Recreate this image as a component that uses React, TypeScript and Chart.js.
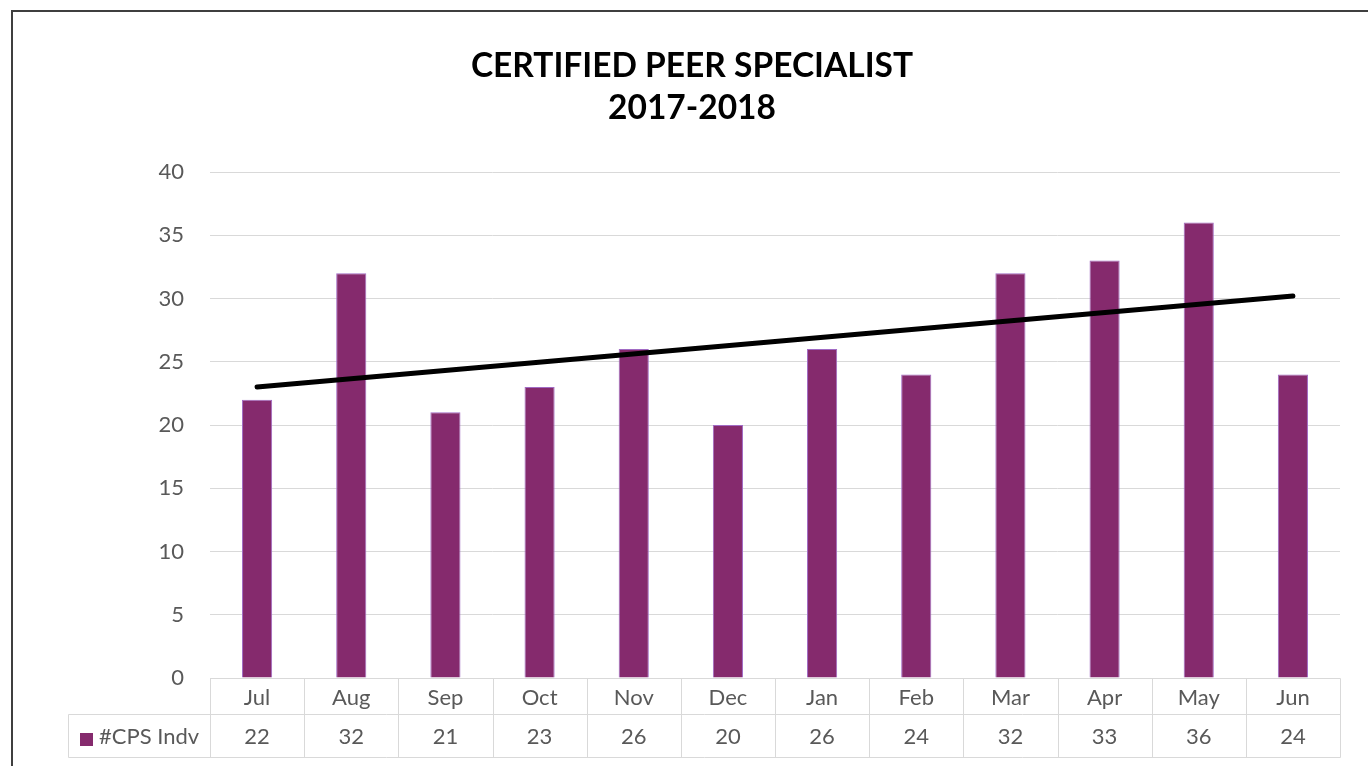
import React, { useEffect, useRef } from "react";
import { Chart, registerables } from "chart.js";

Chart.register(...registerables);

const categories = ["Jul", "Aug", "Sep", "Oct", "Nov", "Dec", "Jan", "Feb", "Mar", "Apr", "May", "Jun"];
const cpsIndv = [22, 32, 21, 23, 26, 20, 26, 24, 32, 33, 36, 24];
const trendLine = [23.0, null, null, null, null, null, null, null, null, null, null, 30.2];
const seriesName = "#CPS Indv";
const titleLines = ["CERTIFIED PEER SPECIALIST", "2017-2018"];
const yMin = 0;
const yMax = 40;
const yStep = 5;

const FONT = "Lato, 'Open Sans', sans-serif";
const BAR_FILL = "#852A6D";
const BAR_EDGE = "#A16BC4";
const TEXT_GRAY = "#595959";
const GRID = "#d9d9d9";

const framePlugin = {
  id: "frame",
  beforeDraw(chart: any) {
    const { ctx, width, height } = chart;
    ctx.save();
    ctx.fillStyle = "#ffffff";
    ctx.fillRect(0, 0, width, height);
    ctx.strokeStyle = "#3f3f3f";
    ctx.lineWidth = 2;
    ctx.beginPath();
    ctx.moveTo(12, height + 2);
    ctx.lineTo(12, 11);
    ctx.lineTo(width + 2, 11);
    ctx.stroke();
    ctx.restore();
  },
};

const titlePlugin = {
  id: "twoLineTitle",
  afterDraw(chart: any) {
    const { ctx } = chart;
    ctx.save();
    ctx.fillStyle = "#000000";
    ctx.font = `bold 33.5px ${FONT}`;
    ctx.textAlign = "center";
    ctx.textBaseline = "middle";
    ctx.fillText(titleLines[0], 692, 66);
    ctx.fillText(titleLines[1], 692, 108);
    ctx.restore();
  },
};

const tablePlugin = {
  id: "dataTable",
  afterDraw(chart: any) {
    const { ctx, chartArea } = chart;
    const xs = chart.scales.x;
    const n = categories.length;
    const half = (xs.getPixelForValue(1) - xs.getPixelForValue(0)) / 2;
    const edges: number[] = categories.map((_, i) => xs.getPixelForValue(i) - half);
    edges.push(xs.getPixelForValue(n - 1) + half);
    const top = Math.round(chartArea.bottom) + 0.5;
    const mid = top + 36;
    const bottom = mid + 43;
    const legendLeft = 68.5;
    const left = Math.round(edges[0]) + 0.5;
    const right = Math.round(edges[n]) + 0.5;

    ctx.save();
    ctx.strokeStyle = GRID;
    ctx.lineWidth = 1;
    ctx.beginPath();
    ctx.moveTo(left, top);
    ctx.lineTo(right, top);
    ctx.moveTo(legendLeft, mid);
    ctx.lineTo(right, mid);
    ctx.moveTo(legendLeft, bottom);
    ctx.lineTo(right, bottom);
    ctx.moveTo(legendLeft, mid);
    ctx.lineTo(legendLeft, bottom);
    for (let i = 0; i <= n; i++) {
      const ex = Math.round(edges[i]) + 0.5;
      ctx.moveTo(ex, top);
      ctx.lineTo(ex, bottom);
    }
    ctx.stroke();

    ctx.fillStyle = TEXT_GRAY;
    ctx.font = `22px ${FONT}`;
    ctx.textAlign = "center";
    ctx.textBaseline = "middle";
    for (let i = 0; i < n; i++) {
      const cx = xs.getPixelForValue(i);
      ctx.fillText(categories[i], cx, (top + mid) / 2 + 1);
      ctx.fillText(String(cpsIndv[i]), cx, (mid + bottom) / 2 + 1);
    }

    ctx.fillStyle = BAR_FILL;
    ctx.fillRect(80, 733, 13, 13);
    ctx.fillStyle = TEXT_GRAY;
    ctx.textAlign = "left";
    ctx.fillText(seriesName, 99, (mid + bottom) / 2 + 1);
    ctx.restore();
  },
};

export default function App() {
  const canvasRef = useRef<HTMLCanvasElement | null>(null);

  useEffect(() => {
    document.body.style.margin = "0";
    const canvas = canvasRef.current;
    if (!canvas) return;
    const chart = new Chart(canvas, {
      type: "bar",
      data: {
        labels: categories,
        datasets: [
          {
            type: "line",
            label: "Trend",
            data: trendLine as any,
            borderColor: "#000000",
            borderWidth: 5,
            borderCapStyle: "round",
            pointRadius: 0,
            spanGaps: true,
            fill: false,
            order: 0,
          } as any,
          {
            type: "bar",
            label: seriesName,
            data: cpsIndv,
            backgroundColor: BAR_FILL,
            borderColor: BAR_EDGE,
            borderWidth: 1,
            barPercentage: 0.32,
            categoryPercentage: 1,
            order: 1,
          } as any,
        ],
      },
      options: {
        responsive: false,
        animation: false,
        layout: { padding: { top: 172, right: 28, bottom: 88, left: 0 } },
        plugins: {
          legend: { display: false },
          tooltip: { enabled: false },
          title: { display: false },
        },
        scales: {
          x: { display: false, offset: true },
          y: {
            min: yMin,
            max: yMax,
            afterFit(scale: any) {
              scale.width = 210;
            },
            ticks: {
              stepSize: yStep,
              padding: 26,
              color: TEXT_GRAY,
              font: { family: FONT, size: 22 },
            },
            grid: { color: GRID, lineWidth: 1, drawTicks: false },
            border: { display: false },
          },
        },
      },
      plugins: [framePlugin, titlePlugin, tablePlugin],
    });
    return () => chart.destroy();
  }, []);

  return <canvas ref={canvasRef} width={1368} height={766} style={{ display: "block" }} />;
}
